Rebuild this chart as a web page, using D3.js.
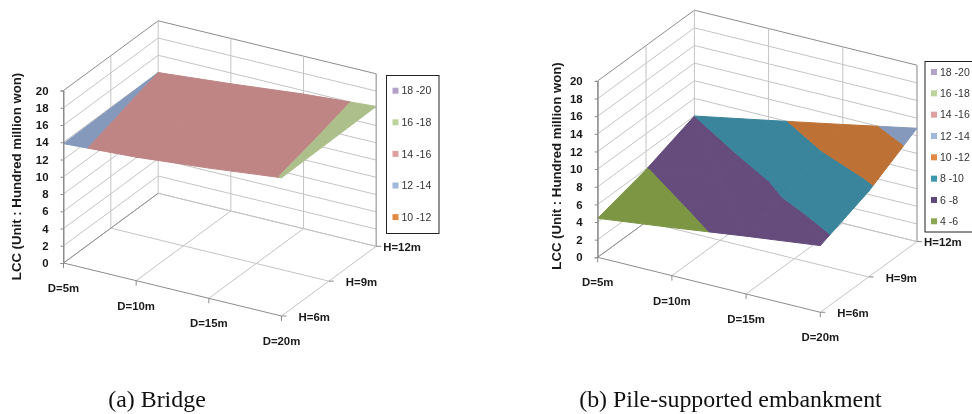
<!DOCTYPE html>
<html><head><meta charset="utf-8">
<script src="https://cdn.jsdelivr.net/npm/d3@7"></script>
<style>
html,body{margin:0;padding:0;background:#fff}
svg{display:block;filter:blur(0.35px)}
text{font-family:"Liberation Sans",Arial,sans-serif;fill:#1a1a1a}
.tick-label{font-size:11.4px;font-weight:bold}
.axis-title{font-size:13.2px;font-weight:bold}
.legend-label{font-size:10.5px;fill:#333}
.caption{font-family:"Liberation Serif","Times New Roman",serif;font-size:23.9px;fill:#111}
</style></head><body>
<svg id="chart" width="972" height="414"></svg>
<script>
const lengths = ["D=5m","D=10m","D=15m","D=20m"];
const heights = ["H=6m","H=9m","H=12m"];
const lccTicks = [0,2,4,6,8,10,12,14,16,18,20];
const bandNames = ["4 -6","6 -8","8 -10","10 -12","12 -14","14 -16","16 -18","18 -20"];
const bandLows = [4,6,8,10,12,14,16,18];
const bandFill = ["#7c9644","#654c7c","#3a859c","#bd7135","#8499bb","#bf8584","#adbf8a","#a99bbd"];
const bandKey = ["#8ba650","#60497a","#3c96ad","#e08a45","#a0b8dc","#dfa0a0","#bcd39c","#b3a2c7"];
const bridgeH6 = [13.84,14.32,15.1,16.03];
const bridgeH9 = [13.92,14.41,15.5,16.12];
const bridgeH12 = [14.0,14.75,15.6,16.22];
const embankH6 = [4.42,5.45,6.55,7.56];
const embankH9 = [5.93,7.0,8.5,9.7];
const embankH12 = [8.0,9.59,11.2,12.85];
const bridgeLegend = ["18 -20","16 -18","14 -16","12 -14","10 -12"];
const embankLegend = ["18 -20","16 -18","14 -16","12 -14","10 -12","8 -10","6 -8","4 -6"];

const svg = d3.select("#chart");

function clipBand(poly, lo, hi){
  const clip = (pts, keep, level) => {
    const out = [];
    pts.forEach((p,i) => {
      const q = pts[(i+1)%pts.length];
      const a = keep(p.z), b = keep(q.z);
      if (a) out.push(p);
      if (a !== b) {
        const t = (level-p.z)/(q.z-p.z);
        out.push({d:p.d+t*(q.d-p.d), h:p.h+t*(q.h-p.h), z:level});
      }
    });
    return out;
  };
  let r = clip(poly, z => z >= lo, lo);
  if (r.length) r = clip(r, z => z <= hi, hi);
  return r;
}

function drawChart(cfg){
  const g = svg.append("g");
  const {o, dVec, hVec, zLen} = cfg;
  const dScale = d3.scalePoint().domain(lengths).range([0,1]);
  const hScale = d3.scalePoint().domain(heights).range([0,1]);
  const zScale = d3.scaleLinear().domain([0,20]).range([o[1], o[1]-zLen]);
  const proj = (d,h,z) => [o[0]+d*dVec[0]+h*hVec[0], zScale(z)+d*dVec[1]+h*hVec[1]];
  const seg = (a,b,col,w) => g.append("line")
    .attr("x1",a[0]).attr("y1",a[1]).attr("x2",b[0]).attr("y2",b[1])
    .attr("stroke",col).attr("stroke-width",w||1);
  const grid = "#c4c4c4", edge = "#8c8c8c";

  // walls
  lccTicks.forEach(z => {
    const c = z===20 ? edge : grid;
    seg(proj(0,0,z),proj(0,1,z),c);
    seg(proj(0,1,z),proj(1,1,z),c);
  });
  hScale.domain().forEach(h => { const v=hScale(h); seg(proj(0,v,0),proj(0,v,20), v===0?edge:grid); });
  dScale.domain().forEach(d => { const v=dScale(d); if(v>0) seg(proj(v,1,0),proj(v,1,20),v===1?"#a8a8a8":grid, v===1?1.4:1); });
  // floor
  dScale.domain().forEach(d => { const v=dScale(d); seg(proj(v,0,0),proj(v,1,0), v===0?edge:grid); });
  hScale.domain().forEach(h => { const v=hScale(h); seg(proj(0,v,0),proj(1,v,0), v===0?edge:grid); });

  // surface, cut into bands, back to front
  const rows = cfg.rows;
  const dv = lengths.map(d => dScale(d)), hv = heights.map(h => hScale(h));
  const line = d3.line();
  for (let j=rows.length-2;j>=0;j--) for (let i=0;i<dv.length-1;i++){
    const P=(a,b)=>({d:dv[a],h:hv[b],z:rows[b][a]});
    const tris=[[P(i,j),P(i+1,j),P(i,j+1)],[P(i+1,j),P(i+1,j+1),P(i,j+1)]];
    tris.forEach(tri => bandLows.forEach((lo,k) => {
      const poly = clipBand(tri,lo,lo+2);
      if (poly.length<3) return;
      g.append("path")
       .attr("d",line(poly.map(p=>proj(p.d,p.h,p.z)))+"Z")
       .attr("fill",bandFill[k]).attr("stroke",bandFill[k]).attr("stroke-width",1).attr("stroke-linejoin","round");
    }));
  }

  // z axis
  const zAxis = d3.axisLeft(zScale).tickValues(lccTicks).tickSize(3).tickPadding(cfg.zPad).tickFormat(d3.format("d"));
  const ax = g.append("g").attr("transform",`translate(${o[0]},0)`).call(zAxis);
  ax.select(".domain").attr("stroke",edge);
  ax.selectAll(".tick line").attr("stroke",edge);
  ax.selectAll(".tick text").attr("class","tick-label").attr("font-family",null).attr("font-size",null).attr("fill",null);

  // category labels
  lengths.forEach(d => {
    const v=dScale(d), p=proj(v,0,0);
    seg(p,[p[0],p[1]+5],edge);
    g.append("text").attr("class","tick-label").attr("x",p[0]).attr("y",p[1]+25).attr("dy","0.35em").attr("text-anchor","middle").text(d);
  });
  heights.forEach(h => {
    const v=hScale(h), p=proj(1,v,0);
    seg(p,[p[0]+5,p[1]],edge);
    g.append("text").attr("class","tick-label").attr("x",p[0]+(v===1?7:17)).attr("y",p[1]+0.8).attr("dy","0.35em").text(h);
  });

  // title of z axis
  g.append("text").attr("class","axis-title")
    .attr("transform",`translate(${cfg.titleX},${cfg.titleY}) rotate(-90)`).attr("text-anchor","middle")
    .text("LCC (Unit : Hundred million won)");

  // legend
  const L=cfg.legend;
  g.append("rect").attr("x",L.x).attr("y",L.y).attr("width",L.w).attr("height",L.h)
    .attr("fill","#fff").attr("stroke","#222").attr("stroke-width",1);
  cfg.legendItems.forEach((name,i) => {
    const k=bandNames.indexOf(name), y=L.first+i*L.step;
    g.append("rect").attr("x",L.x+6).attr("y",y-3).attr("width",6).attr("height",6).attr("fill",bandKey[k]);
    g.append("text").attr("class","legend-label").attr("x",L.x+15).attr("y",y).attr("dy","0.35em").text(name);
  });

  g.append("text").attr("class","caption").attr("x",cfg.capX).attr("y",407).attr("text-anchor","middle").text(cfg.caption);
}

drawChart({
  o:[63.5,263], dVec:[218,53], hVec:[94.7,-69.7], zLen:172.5, zPad:12,
  rows:[bridgeH6,bridgeH9,bridgeH12], titleX:20.5, titleY:176.5,
  legend:{x:386.5,y:75.5,w:52.5,h:158,first:90.7,step:31.6}, legendItems:bridgeLegend,
  caption:"(a) Bridge", capX:157
});
drawChart({
  o:[597.7,257.3], dVec:[222.6,55], hVec:[96.7,-70.7], zLen:176.4, zPad:12,
  rows:[embankH6,embankH9,embankH12], titleX:560.5, titleY:166,
  legend:{x:925,y:61.5,w:50,h:170.5,first:72,step:21.33}, legendItems:embankLegend,
  caption:"(b) Pile-supported embankment", capX:730.5
});
</script>
</body></html>
